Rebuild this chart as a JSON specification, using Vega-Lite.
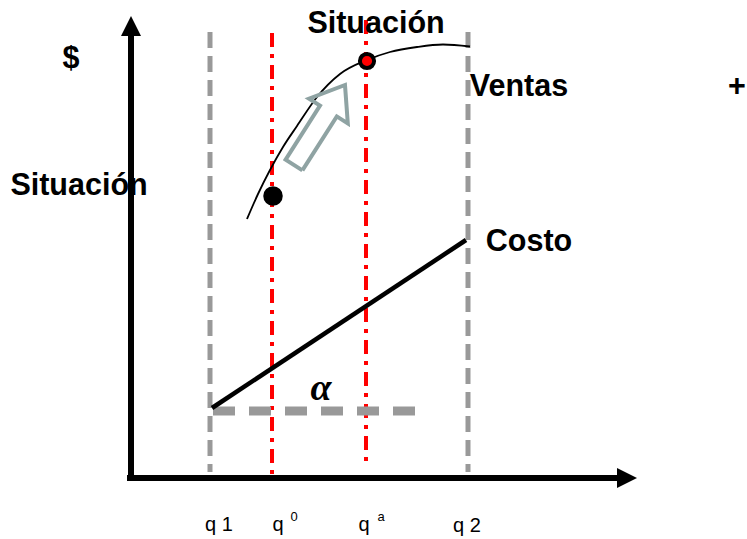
{
  "$schema": "https://vega.github.io/schema/vega-lite/v6.json",
  "width": 747,
  "height": 539,
  "padding": 0,
  "autosize": {"type": "none"},
  "background": "white",
  "config": {"view": {"stroke": null}},
  "datasets": {
    "grayV": [{"x": 210, "y": 32, "y2": 472}, {"x": 468, "y": 32, "y2": 472}],
    "redV": [{"x": 272, "y": 33, "y2": 480}, {"x": 366, "y": 20, "y2": 466}],
    "grayH": [{"x": 213, "x2": 415, "y": 411}],
    "costo": [{"x": 212, "y": 408}, {"x": 466, "y": 240}],
    "axisV": [{"x": 131, "y": 32, "y2": 481}],
    "axisH": [{"x": 127, "x2": 620, "y": 478}],
    "headUp": [{"x": 131, "y": 26}],
    "headRight": [{"x": 627, "y": 478}],
    "ventas": [
      {"x": 247, "y": 219}, {"x": 258, "y": 194}, {"x": 270, "y": 170},
      {"x": 283, "y": 147}, {"x": 297, "y": 126}, {"x": 317, "y": 97},
      {"x": 340, "y": 74}, {"x": 367, "y": 60}, {"x": 390, "y": 52},
      {"x": 417, "y": 47}, {"x": 443, "y": 44.5}, {"x": 470, "y": 46.5}
    ],
    "arrow": [
      {"i": 0, "x": 302.4, "y": 170.4}, {"i": 1, "x": 285.6, "y": 159.6},
      {"i": 2, "x": 320, "y": 105.6}, {"i": 3, "x": 309, "y": 98.6},
      {"i": 4, "x": 345, "y": 85}, {"i": 5, "x": 347.8, "y": 123.4},
      {"i": 6, "x": 336.8, "y": 116.4}, {"i": 7, "x": 302.4, "y": 170.4}
    ],
    "ptBlack": [{"x": 273, "y": 196}],
    "ptRed": [{"x": 367, "y": 61}],
    "bigText": [
      {"x": 71, "y": 59, "label": "$"},
      {"x": 79, "y": 186, "label": "Situación"},
      {"x": 376, "y": 24, "label": "Situación"},
      {"x": 519, "y": 87, "label": "Ventas"},
      {"x": 737, "y": 87, "label": "+"},
      {"x": 529, "y": 242, "label": "Costo"}
    ],
    "alpha": [{"x": 321, "y": 389, "label": "α"}],
    "qText": [
      {"x": 219, "y": 531, "label": "q 1"},
      {"x": 278, "y": 531, "label": "q"},
      {"x": 364, "y": 531, "label": "q"},
      {"x": 467, "y": 532, "label": "q 2"}
    ],
    "supText": [
      {"x": 294, "y": 521, "label": "0"},
      {"x": 381, "y": 521, "label": "a"}
    ]
  },
  "encoding": {
    "x": {"field": "x", "type": "quantitative", "scale": {"domain": [0, 747], "nice": false, "zero": false}, "axis": null},
    "y": {"field": "y", "type": "quantitative", "scale": {"domain": [0, 539], "reverse": true, "nice": false, "zero": false}, "axis": null}
  },
  "layer": [
    {
      "data": {"name": "grayV"},
      "mark": {"type": "rule", "color": "#999999", "strokeWidth": 5, "strokeDash": [16, 8]},
      "encoding": {"y2": {"field": "y2"}}
    },
    {
      "data": {"name": "redV"},
      "mark": {"type": "rule", "color": "#ff0000", "strokeWidth": 4, "strokeDash": [14, 7, 4, 7]},
      "encoding": {"y2": {"field": "y2"}}
    },
    {
      "data": {"name": "grayH"},
      "mark": {"type": "rule", "color": "#999999", "strokeWidth": 9, "strokeDash": [22, 14]},
      "encoding": {"x2": {"field": "x2"}}
    },
    {
      "data": {"name": "costo"},
      "mark": {"type": "line", "color": "black", "strokeWidth": 4.5},
      "encoding": {}
    },
    {
      "data": {"name": "axisV"},
      "mark": {"type": "rule", "color": "black", "strokeWidth": 6},
      "encoding": {"y2": {"field": "y2"}}
    },
    {
      "data": {"name": "axisH"},
      "mark": {"type": "rule", "color": "black", "strokeWidth": 6},
      "encoding": {"x2": {"field": "x2"}}
    },
    {
      "data": {"name": "headUp"},
      "mark": {"type": "point", "shape": "M0,-1L1,1L-1,1Z", "filled": true, "color": "black", "size": 400, "opacity": 1}
    },
    {
      "data": {"name": "headRight"},
      "mark": {"type": "point", "shape": "M1,0L-1,1L-1,-1Z", "filled": true, "color": "black", "size": 400, "opacity": 1}
    },
    {
      "data": {"name": "ventas"},
      "mark": {"type": "line", "color": "black", "strokeWidth": 1.8, "interpolate": "monotone"},
      "encoding": {}
    },
    {
      "data": {"name": "arrow"},
      "mark": {"type": "line", "color": "#8fa3a3", "strokeWidth": 4, "strokeJoin": "miter"},
      "encoding": {"order": {"field": "i", "type": "quantitative"}}
    },
    {
      "data": {"name": "ptBlack"},
      "mark": {"type": "circle", "color": "black", "size": 380, "opacity": 1}
    },
    {
      "data": {"name": "ptRed"},
      "mark": {"type": "point", "shape": "circle", "filled": true, "fill": "#ff0000", "stroke": "black", "strokeWidth": 4, "size": 200, "opacity": 1}
    },
    {
      "data": {"name": "bigText"},
      "mark": {"type": "text", "font": "Liberation Sans", "fontWeight": "bold", "fontSize": 30.5, "align": "center", "baseline": "middle", "color": "black"},
      "encoding": {"text": {"field": "label"}}
    },
    {
      "data": {"name": "alpha"},
      "mark": {"type": "text", "font": "Liberation Serif", "fontWeight": "bold", "fontStyle": "italic", "fontSize": 38, "align": "center", "baseline": "middle", "color": "black"},
      "encoding": {"text": {"field": "label"}}
    },
    {
      "data": {"name": "qText"},
      "mark": {"type": "text", "font": "Liberation Sans", "fontSize": 20, "align": "center", "baseline": "alphabetic", "color": "black"},
      "encoding": {"text": {"field": "label"}}
    },
    {
      "data": {"name": "supText"},
      "mark": {"type": "text", "font": "Liberation Sans", "fontSize": 13, "align": "center", "baseline": "alphabetic", "color": "black"},
      "encoding": {"text": {"field": "label"}}
    }
  ]
}
